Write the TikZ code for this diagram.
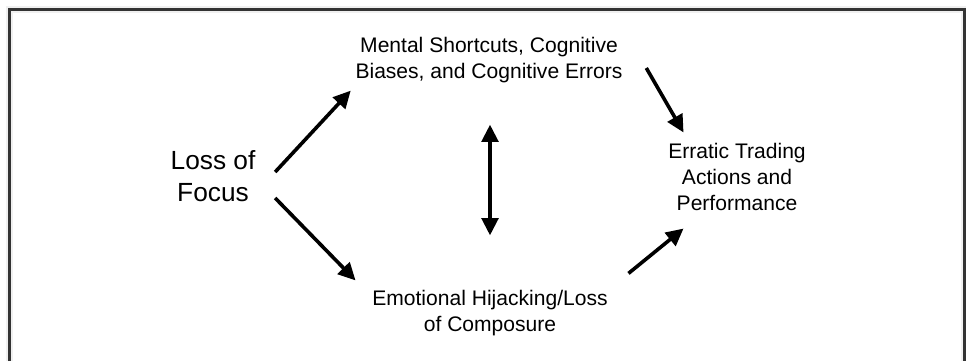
\documentclass[tikz,border=0pt]{standalone}
\usepackage{fontspec}
\setmainfont{Liberation Sans}
\usepackage{tikz}
\usetikzlibrary{arrows.meta}

\begin{document}
\begin{tikzpicture}[x=0.75pt,y=-0.75pt,>={Triangle[length=13pt,width=12.5pt]},line width=2.7pt]
		\tikzstyle{every node}=[inner sep=0pt,align=center,font=\fontsize{15.8}{19.5}\selectfont]
		\tikzstyle{bigtext}=[font=\fontsize{19.7}{24}\selectfont]
		\tikzstyle{arr}=[->,black]
		\tikzstyle{frame}=[draw=black!80,line width=2.3pt]

		\useasboundingbox (0,0) rectangle (966,361);
		\draw[gray!12,line width=5pt] (9.5,361) -- (9.5,9.5) -- (964.5,9.5) -- (964.5,361);
		\draw[frame] (9.5,361) -- (9.5,9.5) -- (964.5,9.5) -- (964.5,361);

		\node[bigtext] (loss)	at (213,176)	{Loss of\\Focus};
		\node (mental)	at (489,60)	{Mental Shortcuts, Cognitive\\Biases, and Cognitive Errors};
		\node (emotional)	at (490,313)	{Emotional Hijacking/Loss\\of Composure};
		\node (erratic)	at (737,177)	{Erratic Trading\\Actions and\\Performance};

		\draw[arr] ([shift={(18,-4)}]loss.east) -- ([shift={(-3,6)}]mental.south west);
		\draw[arr] ([shift={(18,22)}]loss.east) -- ([shift={(-15,-8)}]emotional.north west);
		\draw[arr] ([shift={(22,8)}]mental.east) -- ([shift={(17,-9)}]erratic.north west);
		\draw[arr] ([shift={(19,-15)}]emotional.north east) -- ([shift={(17,16)}]erratic.south west);
		\draw[<->] ([shift={(1,40)}]mental.south) -- ([shift={(0,-53)}]emotional.north);
\end{tikzpicture}
\end{document}
